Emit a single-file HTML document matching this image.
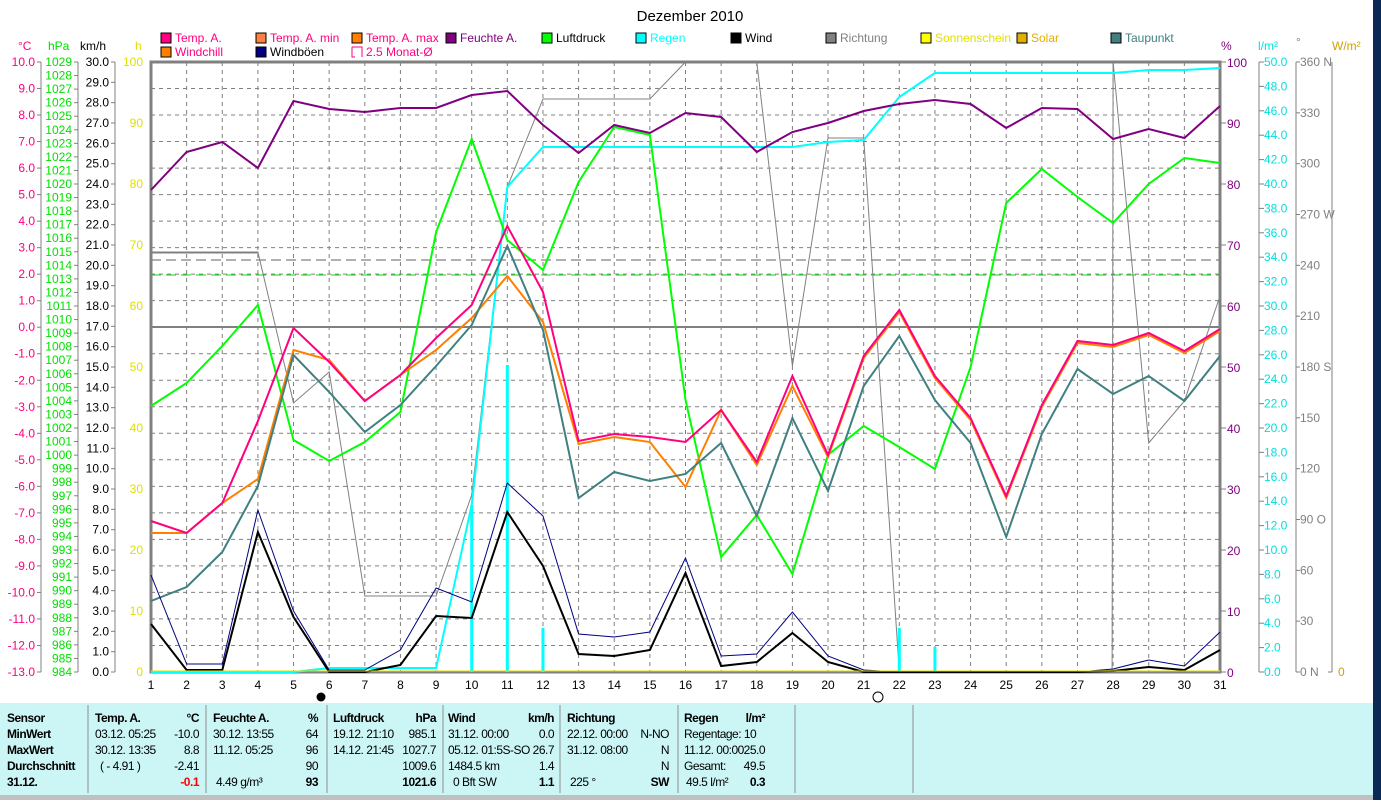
<!DOCTYPE html>
<html><head><meta charset="utf-8"><style>
body{margin:0;background:#fff;width:1381px;height:800px;overflow:hidden;font-family:"Liberation Sans",sans-serif}
svg text{font-family:"Liberation Sans",sans-serif;font-size:12px}
.tb text{letter-spacing:-0.5px}
</style></head><body>
<svg id="s" width="1381" height="800" xmlns="http://www.w3.org/2000/svg">
<rect x="0" y="0" width="1381" height="800" fill="#fff"/>
<rect x="1373" y="0" width="8" height="800" fill="#0a2a55"/>
<text x="690" y="21" text-anchor="middle" style="font-size:15px">Dezember 2010</text>
<g id="grid"></g>
<g style="font-size:12px">
<rect x="161" y="33" width="10" height="10" fill="#ff0080" stroke="#000"/><text x="175" y="42" fill="#ff0080">Temp. A.</text>
<rect x="256" y="33" width="10" height="10" fill="#ff8040" stroke="#000"/><text x="270" y="42" fill="#ff0080">Temp. A. min</text>
<rect x="352" y="33" width="10" height="10" fill="#ff8000" stroke="#000"/><text x="366" y="42" fill="#ff0080">Temp. A. max</text>
<rect x="446" y="33" width="10" height="10" fill="#800080" stroke="#000"/><text x="460" y="42" fill="#800080">Feuchte A.</text>
<rect x="542" y="33" width="10" height="10" fill="#00ff00" stroke="#000"/><text x="556" y="42" fill="#000">Luftdruck</text>
<rect x="636" y="33" width="10" height="10" fill="#00ffff" stroke="#000"/><text x="650" y="42" fill="#00ffff">Regen</text>
<rect x="731" y="33" width="10" height="10" fill="#000" stroke="#000"/><text x="745" y="42" fill="#000">Wind</text>
<rect x="826" y="33" width="10" height="10" fill="#808080" stroke="#000"/><text x="840" y="42" fill="#808080">Richtung</text>
<rect x="921" y="33" width="10" height="10" fill="#ffff00" stroke="#000"/><text x="935" y="42" fill="#e0e000">Sonnenschein</text>
<rect x="1017" y="33" width="10" height="10" fill="#e0b000" stroke="#000"/><text x="1031" y="42" fill="#e0b000">Solar</text>
<rect x="1111" y="33" width="10" height="10" fill="#408080" stroke="#000"/><text x="1125" y="42" fill="#408080">Taupunkt</text>
<rect x="161" y="47" width="10" height="10" fill="#ff8000" stroke="#000"/><text x="175" y="56" fill="#ff0080">Windchill</text>
<rect x="256" y="47" width="10" height="10" fill="#000080" stroke="#000"/><text x="270" y="56" fill="#000">Windböen</text>
<path d="M352 47h10v10M352 47v10h3" fill="none" stroke="#ff0080"/><text x="366" y="56" fill="#ff0080">2.5 Monat-Ø</text>
</g>
<text x="18" y="50" fill="#ff0080">°C</text>
<text x="48" y="50" fill="#00e000">hPa</text>
<text x="80" y="50" fill="#000">km/h</text>
<text x="135" y="50" fill="#e0e000">h</text>
<text x="1221" y="50" fill="#800080">%</text>
<text x="1258" y="50" fill="#00e0e0">l/m²</text>
<text x="1296" y="46" fill="#808080">°</text>
<text x="1332" y="50" fill="#d0a000">W/m²</text>
<g id="axes" stroke="#808080" fill="none"></g>
<g id="lab"></g>
<g id="series"></g>
<g id="xl" text-anchor="middle"></g>
<circle cx="321" cy="697" r="4.5" fill="#000"/>
<circle cx="878" cy="697" r="5" fill="none" stroke="#000"/>
<rect x="0" y="703" width="1373" height="92" fill="#ccf5f5"/>
<rect x="0" y="795" width="1373" height="5" fill="#c0c0c0"/>
<g stroke="#909090"><line x1="88" y1="705" x2="88" y2="793"/><line x1="206" y1="705" x2="206" y2="793"/><line x1="327" y1="705" x2="327" y2="793"/><line x1="443" y1="705" x2="443" y2="793"/><line x1="560" y1="705" x2="560" y2="793"/><line x1="678" y1="705" x2="678" y2="793"/><line x1="795" y1="705" x2="795" y2="793"/><line x1="913" y1="705" x2="913" y2="793"/></g>
<g class="tb" style="font-size:11px">
<text x="7" y="722" font-weight="bold">Sensor</text><text x="7" y="738" font-weight="bold">MinWert</text><text x="7" y="754" font-weight="bold">MaxWert</text><text x="7" y="770" font-weight="bold">Durchschnitt</text><text x="7" y="786" font-weight="bold">31.12.</text>
<text x="95" y="722" font-weight="bold">Temp. A.</text><text x="199" y="722" text-anchor="end" font-weight="bold">°C</text>
<text x="95" y="738">03.12.  05:25</text><text x="199" y="738" text-anchor="end">-10.0</text>
<text x="95" y="754">30.12.  13:35</text><text x="199" y="754" text-anchor="end">8.8</text>
<text x="100" y="770">( - 4.91 )</text><text x="199" y="770" text-anchor="end">-2.41</text>
<text x="199" y="786" text-anchor="end" font-weight="bold" fill="#f00">-0.1</text>
<text x="213" y="722" font-weight="bold">Feuchte A.</text><text x="318" y="722" text-anchor="end" font-weight="bold">%</text>
<text x="213" y="738">30.12.  13:55</text><text x="318" y="738" text-anchor="end">64</text>
<text x="213" y="754">11.12.  05:25</text><text x="318" y="754" text-anchor="end">96</text>
<text x="318" y="770" text-anchor="end">90</text>
<text x="216" y="786">4.49 g/m³</text><text x="318" y="786" text-anchor="end" font-weight="bold">93</text>
<text x="333" y="722" font-weight="bold">Luftdruck</text><text x="436" y="722" text-anchor="end" font-weight="bold">hPa</text>
<text x="333" y="738">19.12.  21:10</text><text x="436" y="738" text-anchor="end">985.1</text>
<text x="333" y="754">14.12.  21:45</text><text x="436" y="754" text-anchor="end">1027.7</text>
<text x="436" y="770" text-anchor="end">1009.6</text>
<text x="436" y="786" text-anchor="end" font-weight="bold">1021.6</text>
<text x="448" y="722" font-weight="bold">Wind</text><text x="554" y="722" text-anchor="end" font-weight="bold">km/h</text>
<text x="448" y="738">31.12.  00:00</text><text x="554" y="738" text-anchor="end">0.0</text>
<text x="448" y="754">05.12.  01:5S-SO</text><text x="554" y="754" text-anchor="end">26.7</text>
<text x="448" y="770">1484.5 km</text><text x="554" y="770" text-anchor="end">1.4</text>
<text x="453" y="786">0 Bft SW</text><text x="554" y="786" text-anchor="end" font-weight="bold">1.1</text>
<text x="567" y="722" font-weight="bold">Richtung</text>
<text x="567" y="738">22.12.  00:00</text><text x="669" y="738" text-anchor="end">N-NO</text>
<text x="567" y="754">31.12.  08:00</text><text x="669" y="754" text-anchor="end">N</text>
<text x="669" y="770" text-anchor="end">N</text>
<text x="570" y="786">225 °</text><text x="669" y="786" text-anchor="end" font-weight="bold">SW</text>
<text x="684" y="722" font-weight="bold">Regen</text><text x="765" y="722" text-anchor="end" font-weight="bold">l/m²</text>
<text x="684" y="738">Regentage: 10</text>
<text x="684" y="754">11.12.  00:00</text><text x="765" y="754" text-anchor="end">25.0</text>
<text x="684" y="770">Gesamt:</text><text x="765" y="770" text-anchor="end">49.5</text>
<text x="686" y="786">49.5 l/m²</text><text x="765" y="786" text-anchor="end" font-weight="bold">0.3</text>
</g>
</svg>
<script>
var NS="http://www.w3.org/2000/svg";
function el(p,t,a,txt){var e=document.createElementNS(NS,t);for(var k in a)e.setAttribute(k,a[k]);if(txt!=null)e.textContent=txt;document.getElementById(p).appendChild(e);return e;}
var X=[];for(var i=0;i<31;i++)X.push(151+i*1069/30);
var T=62,B=672;
for(var k=1;k<23;k++){var y=T+26.52*k;el("grid","line",{x1:151,x2:1220,y1:y,y2:y,stroke:"#808080","stroke-dasharray":"4,4"});}
for(var i=1;i<30;i++)el("grid","line",{x1:X[i],x2:X[i],y1:T,y2:B,stroke:"#808080","stroke-dasharray":"4,4"});
el("grid","line",{x1:151,x2:1220,y1:260,y2:260,stroke:"#606060","stroke-dasharray":"10,5"});
el("grid","line",{x1:151,x2:1220,y1:275,y2:275,stroke:"#00e000","stroke-dasharray":"10,5"});
el("grid","line",{x1:151,x2:1220,y1:327,y2:327,stroke:"#808080","stroke-width":2});
el("grid","line",{x1:151,x2:258,y1:253,y2:253,stroke:"#808080"});
el("grid","rect",{x:151,y:62,width:1069,height:610,fill:"none",stroke:"#808080","stroke-width":3});
[41,78,115,1259,1296,1332].forEach(function(x){el("axes","line",{x1:x,x2:x,y1:T,y2:B});});
for(var k=0;k<=23;k++){var y=T+610/23*k;el("axes","line",{x1:37,x2:41,y1:y,y2:y});el("lab","text",{x:35,y:y+4,"text-anchor":"end",fill:"#ff0080"},(10-k).toFixed(1));}
for(var k=0;k<=45;k++){var y=T+610/45*k;el("axes","line",{x1:74,x2:78,y1:y,y2:y});el("lab","text",{x:72,y:y+4,"text-anchor":"end",fill:"#00e000"},String(1029-k));}
for(var k=0;k<=30;k++){var y=T+610/30*k;el("axes","line",{x1:111,x2:115,y1:y,y2:y});el("lab","text",{x:109,y:y+4,"text-anchor":"end",fill:"#000"},(30-k).toFixed(1));}
for(var k=0;k<=10;k++){var y=T+61*k;el("lab","text",{x:143,y:y+4,"text-anchor":"end",fill:"#e0e000"},String(100-10*k));
 el("axes","line",{x1:1220,x2:1226,y1:y,y2:y});el("lab","text",{x:1227,y:y+5,fill:"#800080"},String(100-10*k));}
for(var k=0;k<=25;k++){var y=T+610/25*k;el("axes","line",{x1:1259,x2:1264,y1:y,y2:y});el("lab","text",{x:1264,y:y+4,fill:"#00e0e0"},(50-2*k).toFixed(1));}
var dl=["360 N","330","300","270 W","240","210","180 S","150","120","90  O","60","30","0   N"];
for(var k=0;k<=12;k++){var y=T+610/12*k;el("axes","line",{x1:1296,x2:1300,y1:y,y2:y});el("lab","text",{x:1300,y:y+4,fill:"#808080"},dl[k]);}
el("axes","line",{x1:1328,x2:1332,y1:B,y2:B});el("lab","text",{x:1338,y:B+4,fill:"#d0a000"},"0");
for(var i=0;i<31;i++)el("xl","text",{x:X[i],y:689},String(i+1));
function pl(ys,c,w){var p=ys.map(function(y,i){return X[i].toFixed(1)+","+y}).join(" ");el("series","polyline",{points:p,fill:"none",stroke:c,"stroke-width":w||2});}
var clip=el("series","clipPath",{id:"c"});var r=document.createElementNS(NS,"rect");r.setAttribute("x",151);r.setAttribute("y",62);r.setAttribute("width",1069);r.setAttribute("height",610);clip.appendChild(r);
var dir=[252,252,252,252,403,372,596,596,596,495,187,99,99,99,99,62,20,62,366,138,138,672,672,672,672,672,672,62,443,401,296];
var pts=dir.map(function(y,i){return X[i].toFixed(1)+","+y});
pts.splice(27,0,(X[27]-1).toFixed(1)+",672");
el("series","polyline",{points:pts.join(" "),fill:"none",stroke:"#808080","stroke-width":1,"clip-path":"url(#c)"});
[[9,505],[10,365],[11,628],[21,628],[22,647]].forEach(function(b){el("series","rect",{x:X[b[0]]-1.5,y:b[1],width:3,height:B-b[1],fill:"#00ffff"});});
pl([672,672,672,672,672,668,668,668,668,505,187,147,147,147,147,147,147,147,147,142,140,97,73,73,73,73,73,73,70,70,68],"#00ffff");
pl([406,383,346,305,440,461,442,412,232,139,240,270,182,127,135,400,557,515,574,455,426,447,469,367,203,169,197,223,184,158,163],"#00ff00");
pl([190,152,142,168,101,109,112,108,108,95,91,125,153,125,133,113,117,152,132,123,111,104,100,104,128,108,109,139,129,138,106],"#800080");
pl([533,533,503,479,350,360,401,375,350,318,276,322,444,437,442,487,410,465,386,457,358,312,378,420,498,407,343,347,335,353,331],"#ff8000");
pl([601,587,552,486,355,392,432,405,366,325,246,330,498,472,481,474,443,516,418,491,386,336,400,443,537,434,369,394,376,401,356],"#408080");
pl([521,533,503,421,328,362,401,375,338,305,226,292,441,434,437,442,410,462,376,455,356,310,376,418,496,405,341,345,333,351,329],"#ff0080");
pl([575,664,664,510,611,670,670,650,588,602,483,516,634,637,632,558,656,654,612,656,670,672,672,672,672,672,672,669,660,666,632],"#000080",1);
pl([624,670,670,532,617,672,672,665,616,618,512,566,654,656,650,573,666,662,633,662,672,672,672,672,672,672,672,671,667,670,650],"#000",2);
el("series","line",{x1:151,x2:1220,y1:671,y2:671,stroke:"#e0e000","stroke-width":1});
</script>
</body></html>
